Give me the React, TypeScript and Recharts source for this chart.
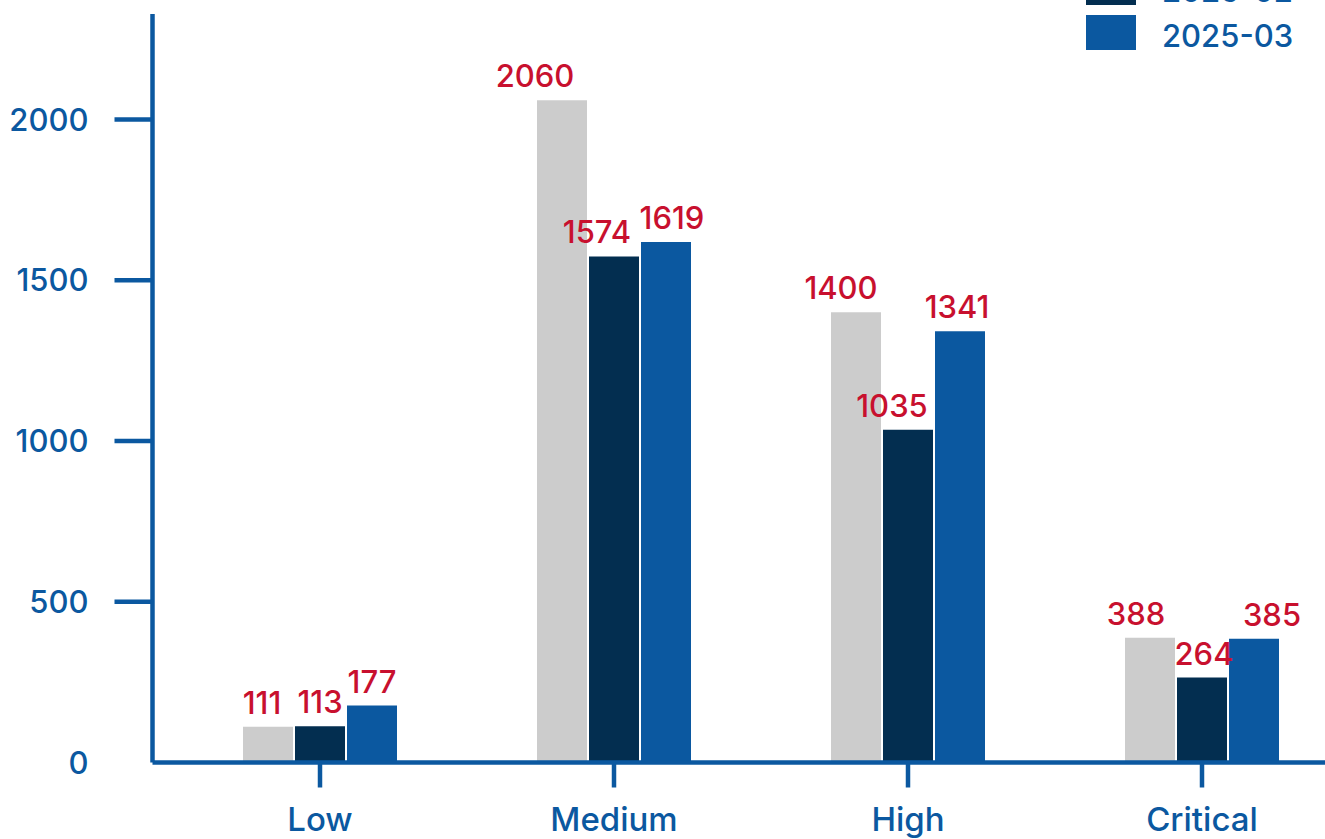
import React from 'react';
import { BarChart, Bar, XAxis, YAxis, LabelList } from 'recharts';

// Severity buckets and monthly counts
const categories = ['Low', 'Medium', 'High', 'Critical'];
const seriesNames = ['2025-01', '2025-02', '2025-03'];
const jan = [111, 2060, 1400, 388];
const feb = [113, 1574, 1035, 264];
const mar = [177, 1619, 1341, 385];
const yTicks = [0, 500, 1000, 1500, 2000];

// Styling
const BLUE = '#0b58a0';
const NAVY = '#032e50';
const GREY = '#cccccc';
const RED = '#c8102e';
const FONT = 'Inter, "Open Sans", sans-serif';
const WEIGHT = 500;
const seriesColors = [GREY, NAVY, BLUE];

// Small horizontal nudges so neighbouring value labels do not collide
const labelNudge = [
  [-6, -27, -15, -14],
  [0, -17, -16, 2],
  [0, 6, -3, 18],
];

const data = categories.map((category, i) => ({
  category,
  s0: jan[i],
  s1: feb[i],
  s2: mar[i],
}));

const Y_TICK_SIZE = 38;
const Y_TICK_MARGIN = 26;

const YTick = (props: any) => {
  const { x, y, payload } = props;
  const lineStart = x + Y_TICK_MARGIN;
  return (
    <g>
      {payload.value !== 0 && (
        <line x1={lineStart} x2={lineStart + Y_TICK_SIZE} y1={y} y2={y} stroke={BLUE} strokeWidth={4.5} />
      )}
      <text
        x={x}
        y={y}
        dy="0.36em"
        textAnchor="end"
        fill={BLUE}
        fontSize={31}
        fontWeight={WEIGHT}
        fontFamily={FONT}
      >
        {payload.value}
      </text>
    </g>
  );
};

const XTick = (props: any) => {
  const { x, y, payload } = props;
  return (
    <text
      x={x}
      y={y}
      dy="0.72em"
      textAnchor="middle"
      fill={BLUE}
      fontSize={33}
      fontWeight={WEIGHT}
      fontFamily={FONT}
    >
      {payload.value}
    </text>
  );
};

const makeValueLabel = (series: number) => (props: any) => {
  const { x, y, width, value, index } = props;
  const dx = labelNudge[series][index] ?? 0;
  return (
    <text
      x={Number(x) + Number(width) / 2 + dx}
      y={Number(y) - 13}
      textAnchor="middle"
      fill={RED}
      fontSize={31}
      fontWeight={WEIGHT}
      fontFamily={FONT}
    >
      {value}
    </text>
  );
};

const LegendBox = () => (
  <div
    style={{
      position: 'absolute',
      left: 1086,
      top: -75,
      fontFamily: FONT,
      fontWeight: WEIGHT,
      fontSize: 31,
      color: BLUE,
    }}
  >
    {seriesNames.map((name, i) => (
      <div key={name} style={{ display: 'flex', alignItems: 'center', height: 35, marginBottom: 10 }}>
        <div style={{ width: 50, height: 35, background: seriesColors[i] }} />
        <span style={{ marginLeft: 26, lineHeight: '35px', position: 'relative', top: 3 }}>{name}</span>
      </div>
    ))}
  </div>
);

export default function App() {
  return (
    <div
      style={{
        position: 'absolute',
        left: 0,
        top: 0,
        width: 1325,
        height: 839,
        overflow: 'hidden',
        background: '#ffffff',
      }}
    >
      <BarChart
        width={1325}
        height={839}
        data={data}
        margin={{ top: 14, right: 0, bottom: 0, left: 0 }}
        barGap={2}
        barSize={50}
      >
        <XAxis
          dataKey="category"
          height={76.5}
          padding={{ left: 20.5, right: -24 }}
          axisLine={{ stroke: BLUE, strokeWidth: 4.5 }}
          tickLine={{ stroke: BLUE, strokeWidth: 4.5 }}
          tickSize={25}
          tickMargin={20}
          tick={<XTick />}
          interval={0}
        />
        <YAxis
          width={152.5}
          domain={[0, 2328]}
          ticks={yTicks}
          axisLine={{ stroke: BLUE, strokeWidth: 4.5 }}
          tickLine={false}
          tickSize={Y_TICK_SIZE}
          tickMargin={Y_TICK_MARGIN}
          tick={<YTick />}
          allowDataOverflow
        />
        <Bar dataKey="s0" name={seriesNames[0]} fill={GREY} isAnimationActive={false}>
          <LabelList dataKey="s0" content={makeValueLabel(0)} />
        </Bar>
        <Bar dataKey="s1" name={seriesNames[1]} fill={NAVY} isAnimationActive={false}>
          <LabelList dataKey="s1" content={makeValueLabel(1)} />
        </Bar>
        <Bar dataKey="s2" name={seriesNames[2]} fill={BLUE} isAnimationActive={false}>
          <LabelList dataKey="s2" content={makeValueLabel(2)} />
        </Bar>
      </BarChart>
      <LegendBox />
    </div>
  );
}
